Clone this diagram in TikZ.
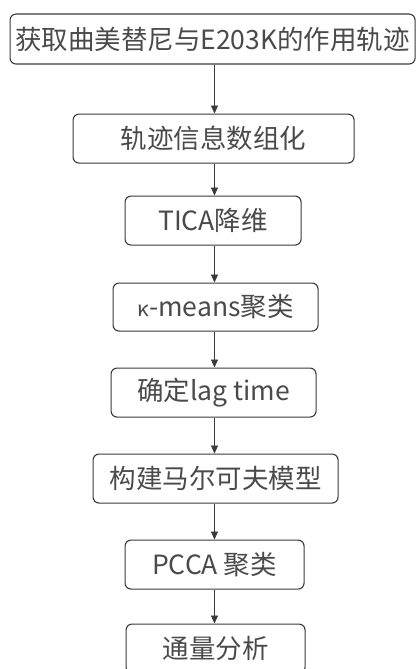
\documentclass[tikz,border=0pt]{standalone}
\usepackage{fontspec}
\setmainfont{Noto Sans CJK SC}
\usetikzlibrary{arrows.meta}
\definecolor{linec}{HTML}{3A3A3A}
\definecolor{textc}{HTML}{4A4A4A}
\tikzset{
  stepbox/.style={draw=linec, line width=1.1pt, rounded corners=6pt, inner sep=0pt,
    text=textc, font=\fontsize{26.5}{30}\selectfont, anchor=north west},
  arr/.style={draw=linec, line width=0.9pt, -{Triangle[length=8pt,width=7pt]}}
}
\begin{document}
\begin{tikzpicture}[x=1pt,y=-1pt]
\useasboundingbox (0,0) rectangle (416,669);
\begin{scope}
\clip (0,0) rectangle (416,669);
\node[stepbox, minimum width=405pt, minimum height=50pt] (b1) at (9.5,13.5) {获取曲美替尼与E203K的作用轨迹};
\node[stepbox, minimum width=281pt, minimum height=49pt] (b2) at (72.5,113.5) {轨迹信息数组化};
\node[stepbox, minimum width=176pt, minimum height=49pt] (b3) at (124.5,195.5) {TICA降维};
\node[stepbox, minimum width=205pt, minimum height=48pt] (b4) at (112.5,282.5) {\fontsize{21}{24}\selectfont κ\fontsize{26.5}{30}\selectfont-means聚类};
\node[stepbox, minimum width=205pt, minimum height=49pt] (b5) at (110.5,367.5) {确定lag time};
\node[stepbox, minimum width=245pt, minimum height=49pt] (b6) at (92.5,453.5) {构建马尔可夫模型};
\node[stepbox, minimum width=179pt, minimum height=49pt] (b7) at (124.5,539.5) {PCCA 聚类};
\node[stepbox, minimum width=179pt, minimum height=49pt] (b8) at (125.5,623.5) {通量分析};
\coordinate (ax) at (214.5,0);
\draw[arr] (b1.south -| ax) -- (b2.north -| ax);
\draw[arr] (b2.south -| ax) -- (b3.north -| ax);
\draw[arr] (b3.south -| ax) -- (b4.north -| ax);
\draw[arr] (b4.south -| ax) -- (b5.north -| ax);
\draw[arr] (b5.south -| ax) -- (b6.north -| ax);
\draw[arr] (b6.south -| ax) -- (b7.north -| ax);
\draw[arr] (b7.south -| ax) -- (b8.north -| ax);
\end{scope}
\end{tikzpicture}
\end{document}
